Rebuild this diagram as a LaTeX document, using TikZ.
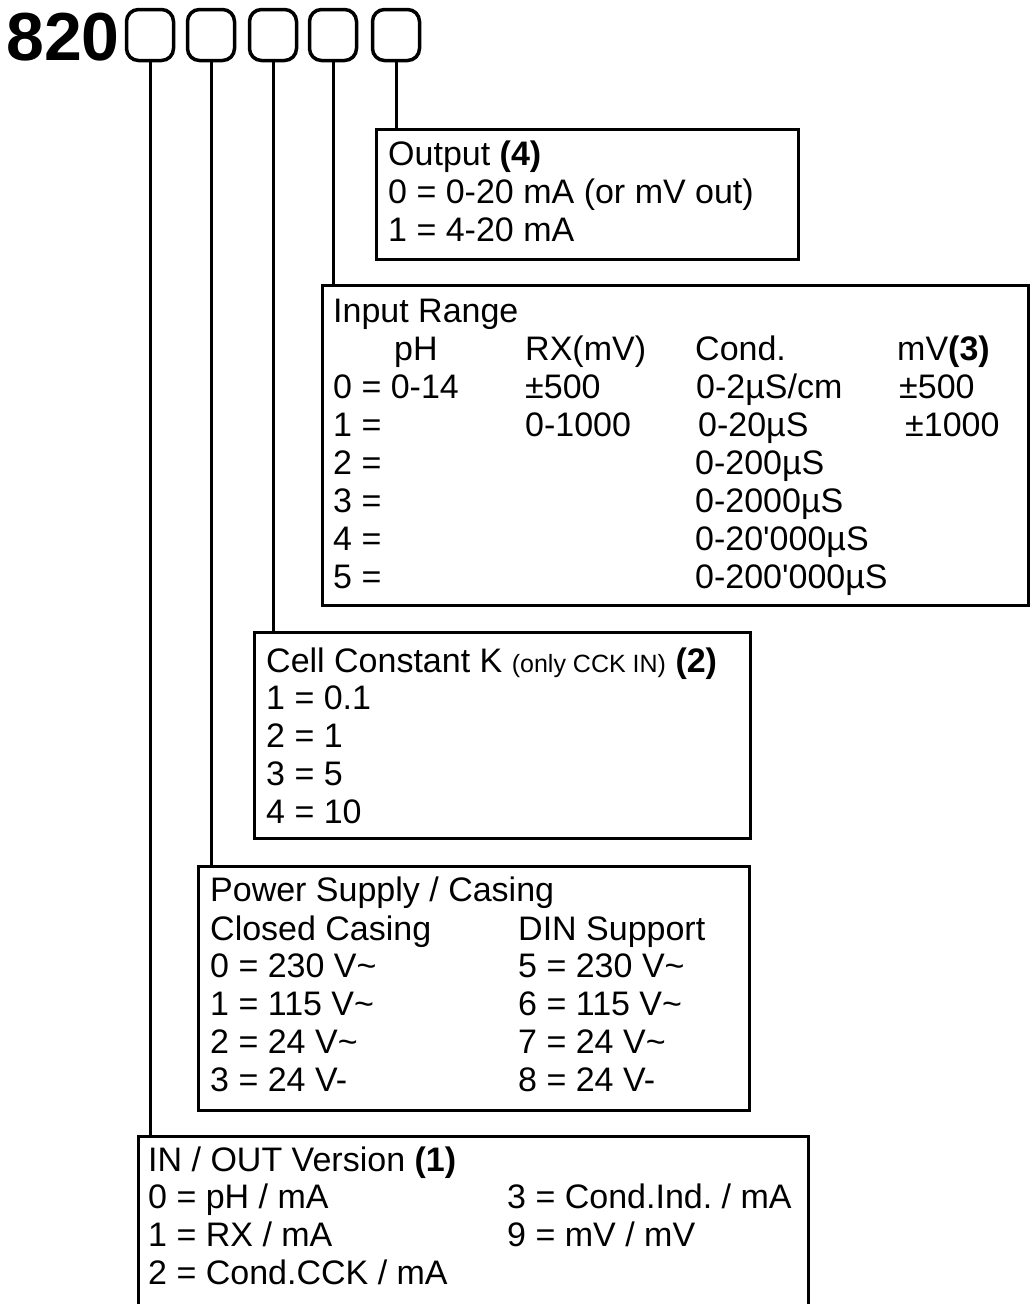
\documentclass[tikz,border=0pt]{standalone}
\usepackage{fontspec}
\newfontfamily\lsans{Liberation Sans}
\frenchspacing
\begin{document}
\begin{tikzpicture}[x=1pt,y=-1pt,
  frame/.style={draw, line width=2.6pt, inner sep=0pt, anchor=north west},
  lbl/.style={anchor=base west, inner sep=0pt, font=\lsans\fontsize{34}{38}\selectfont},
  conn/.style={line width=3pt},
  digit/.style={draw, line width=3.5pt, rounded corners=12pt, minimum width=47pt, minimum height=51pt, inner sep=0pt}]
\useasboundingbox (0,0) rectangle (1032,1304);
\fill[white] (0,0) rectangle (1032,1304);
% code
\node[anchor=base west, inner sep=0pt, font=\lsans\bfseries\fontsize{68}{68}\selectfont] (code) at (6,60) {820};
\node[digit] (d1) at (150,35) {};
\node[digit] (d2) at (211,35) {};
\node[digit] (d3) at (273,35) {};
\node[digit] (d4) at (333,35) {};
\node[digit] (d5) at (396,35) {};
% frames
\node[frame, minimum width=422pt, minimum height=130pt] (fout) at (375,128) {};
\node[frame, minimum width=706pt, minimum height=320pt] (fin) at (321,284) {};
\node[frame, minimum width=496pt, minimum height=206pt] (fcell) at (253,631) {};
\node[frame, minimum width=551pt, minimum height=244pt] (fpow) at (197,865) {};
\node[frame, minimum width=670pt, minimum height=200pt] (fio) at (137,1135) {};
% connectors
\draw[conn] (d1.south) -- (d1.south |- fio.north);
\draw[conn] (d2.south) -- (d2.south |- fpow.north);
\draw[conn] (d3.south) -- (d3.south |- fcell.north);
\draw[conn] (d4.south) -- (d4.south |- fin.north);
\draw[conn] (d5.south) -- (d5.south |- fout.north);
% Output
\node[lbl] (o1) at (388,165) {Output \textbf{(4)}};
\node[lbl] (o2) at (388,203) {0 = 0-20 mA (or mV out)};
\node[lbl] (o3) at (388,241) {1 = 4-20 mA};
% Input range
\node[lbl] (i0) at (333,322) {Input Range};
\node[lbl] (ih1) at (394,360) {pH};
\node[lbl] (ih2) at (525,360) {RX(mV)};
\node[lbl] (ih3) at (695,360) {Cond.};
\node[lbl] (ih4) at (897,360) {mV\textbf{(3)}};
\node[lbl] (ia0) at (333,398) {0 = 0-14};
\node[lbl] (ib0) at (525,398) {±500};
\node[lbl] (ic0) at (696,398) {0-2µS/cm};
\node[lbl] (id0) at (899,398) {±500};
\node[lbl] (ia1) at (333,436) {1 =};
\node[lbl] (ib1) at (525,436) {0-1000};
\node[lbl] (ic1) at (698,436) {0-20µS};
\node[lbl] (id1) at (905,436) {±1000};
\node[lbl] (ia2) at (333,474) {2 =};
\node[lbl] (ic2) at (695,474) {0-200µS};
\node[lbl] (ia3) at (333,512) {3 =};
\node[lbl] (ic3) at (695,512) {0-2000µS};
\node[lbl] (ia4) at (333,550) {4 =};
\node[lbl] (ic4) at (695,550) {0-20'000µS};
\node[lbl] (ia5) at (333,588) {5 =};
\node[lbl] (ic5) at (695,588) {0-200'000µS};
% Cell constant
\node[lbl] (c0) at (266,672) {Cell Constant K {\fontsize{25}{25}\selectfont (only CCK IN)} \textbf{(2)}};
\node[lbl] (c1) at (266,709) {1 = 0.1};
\node[lbl] (c2) at (266,747) {2 = 1};
\node[lbl] (c3) at (266,785) {3 = 5};
\node[lbl] (c4) at (266,823) {4 = 10};
% Power supply
\node[lbl] (p0) at (210,901) {Power Supply / Casing};
\node[lbl] (pa) at (210,940) {Closed Casing};
\node[lbl] (pb) at (518,940) {DIN Support};
\node[lbl] (pa0) at (210,977) {0 = 230 V\textasciitilde};
\node[lbl] (pb0) at (518,977) {5 = 230 V\textasciitilde};
\node[lbl] (pa1) at (210,1015) {1 = 115 V\textasciitilde};
\node[lbl] (pb1) at (518,1015) {6 = 115 V\textasciitilde};
\node[lbl] (pa2) at (210,1053) {2 = 24 V\textasciitilde};
\node[lbl] (pb2) at (518,1053) {7 = 24 V\textasciitilde};
\node[lbl] (pa3) at (210,1091) {3 = 24 V-};
\node[lbl] (pb3) at (518,1091) {8 = 24 V-};
% IN/OUT
\node[lbl] (v0) at (148,1171) {IN / OUT Version \textbf{(1)}};
\node[lbl] (va0) at (148,1208) {0 = pH / mA};
\node[lbl] (vb0) at (507,1208) {3 = Cond.Ind. / mA};
\node[lbl] (va1) at (148,1246) {1 = RX / mA};
\node[lbl] (vb1) at (507,1246) {9 = mV / mV};
\node[lbl] (va2) at (148,1284) {2 = Cond.CCK / mA};
\end{tikzpicture}
\end{document}
